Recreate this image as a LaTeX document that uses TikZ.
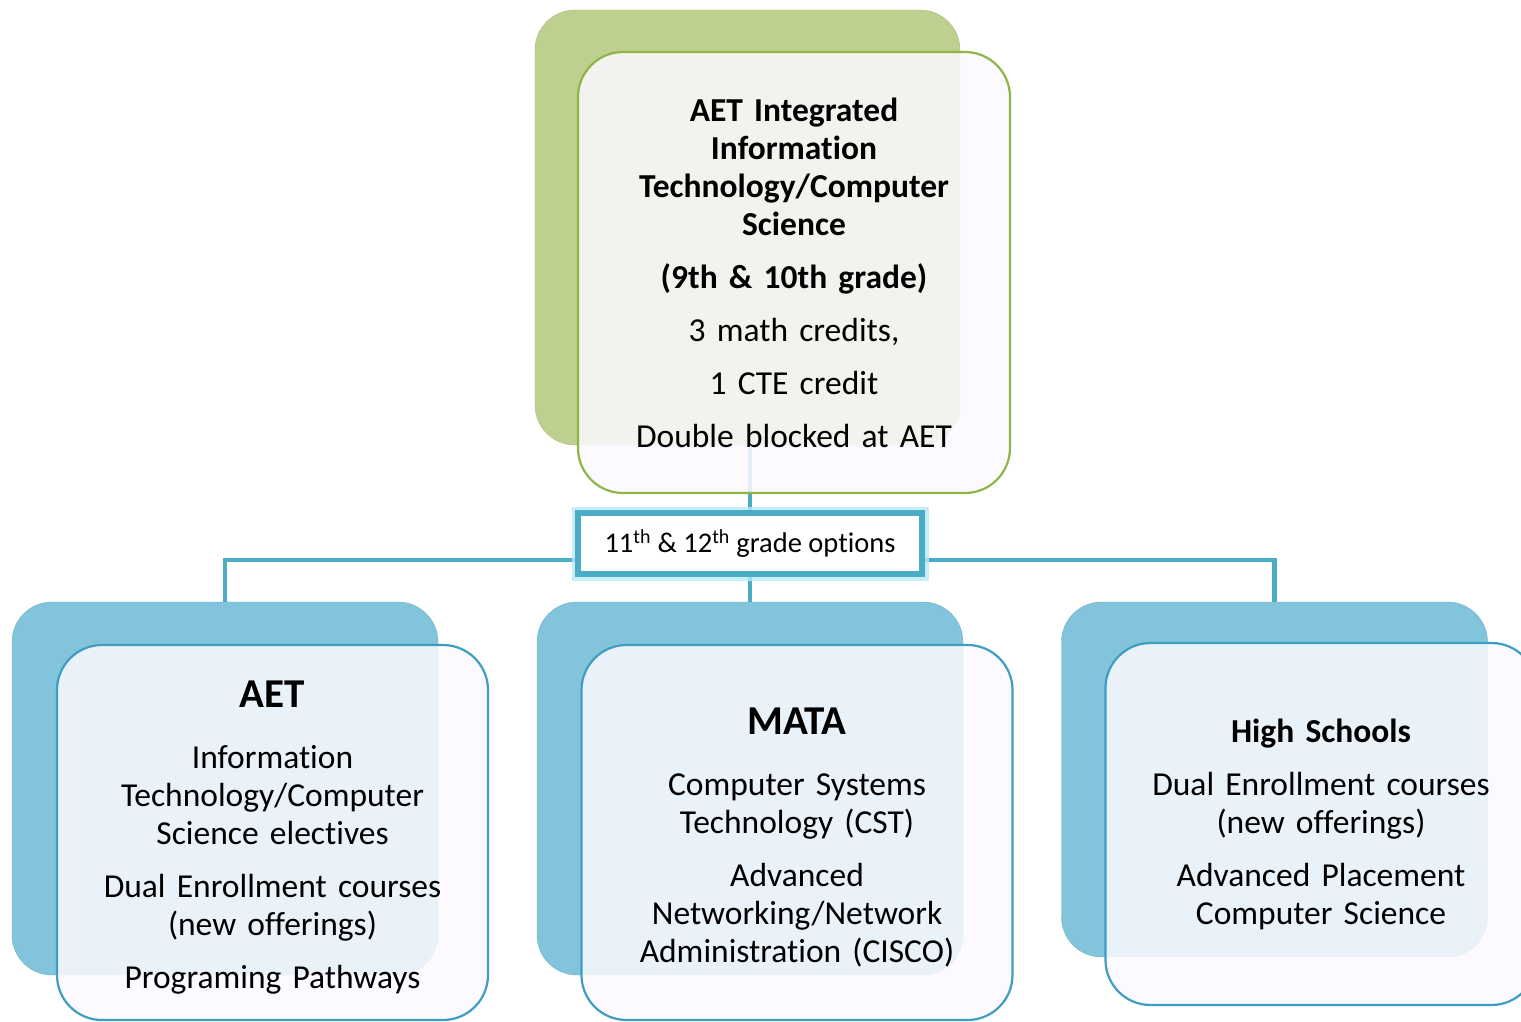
\documentclass[tikz,border=0pt]{standalone}
\usepackage{fontspec}
\setmainfont{Carlito}[Ligatures=NoCommon]
\usetikzlibrary{calc}

\definecolor{grnback}{HTML}{BDD08F}
\definecolor{grnline}{HTML}{8FB548}
\definecolor{bluback}{HTML}{81C4DC}
\definecolor{bluline}{HTML}{3E9EC2}
\definecolor{connclr}{HTML}{4BACC6}
\definecolor{glowclr}{HTML}{B9E8F8}
\definecolor{cardfill}{HTML}{FBF9FE}

\pgfdeclarelayer{back}
\pgfdeclarelayer{conn}
\pgfsetlayers{back,conn,main}

\begin{document}
\begin{tikzpicture}[x=1pt,y=-1pt,
  greenback/.style={rounded corners=40pt, fill=grnback, draw=grnback!90!black, minimum width=425pt, minimum height=435pt, inner sep=0pt},
  blueback/.style={rounded corners=40pt, fill=bluback, draw=bluback!90!black, minimum width=426pt, minimum height=373pt, inner sep=0pt},
  card/.style={rounded corners=45pt, fill=cardfill, fill opacity=0.86, text opacity=1, line width=2.2pt, minimum width=431pt, minimum height=375pt, text width=425pt, align=center, inner sep=0pt, font=\fontsize{33.5}{38}\selectfont},
  greenfront/.style={card, draw=grnline, minimum width=432pt, minimum height=441pt},
  bluefront/.style={card, draw=bluline},
  optbox/.style={draw=connclr, line width=6pt, fill=white, minimum width=344pt, minimum height=61pt, inner sep=0pt, font=\fontsize{28.5}{32}\selectfont, preaction={draw=glowclr, line width=13pt, draw opacity=0.8}},
  conn/.style={draw=connclr, line width=4.5pt}]
\useasboundingbox (0,0) rectangle (1521,1022);

% Back cards
\begin{pgfonlayer}{back}
\node[greenback] (topback) at (747.5,227.5) {};
\node[blueback] (aetback) at (225,788.5) {};
\node[blueback] (mataback) at (750,788.5) {};
\node[blueback, minimum height=355pt] (hsback) at (1274.5,779.5) {};
\end{pgfonlayer}

% Front cards
\node[greenfront] (top) at (794,272.5) {\bfseries AET Integrated\\ Information\\ Technology/Computer\\ Science\\[15pt]
  (9th \& 10th grade)\\[15pt]
  \mdseries 3 math credits,\\[15pt] 1 CTE credit\\[15pt] Double blocked at AET};
\node[bluefront] (aet) at (272.5,832.5) {\rule{0pt}{36pt}{\fontsize{41}{38}\selectfont\bfseries AET}\\[23pt]
  Information\\ Technology/Computer\\ Science electives\\[15pt]
  Dual Enrollment courses\\ (new offerings)\\[15pt]
  Programing Pathways};
\node[bluefront] (mata) at (797,832.5) {\rule{0pt}{36pt}{\fontsize{41}{38}\selectfont\bfseries MATA}\\[23pt]
  Computer Systems\\ Technology (CST)\\[15pt]
  Advanced\\ Networking/Network\\ Administration (CISCO)};
\node[bluefront, minimum height=362pt] (hs) at (1321,824) {{\bfseries High Schools}\\[15pt]
  Dual Enrollment courses\\ (new offerings)\\[15pt]
  Advanced Placement\\ Computer Science};

% Options label
\node[optbox] (opts) at (750,543.5) {11\textsuperscript{th} \& 12\textsuperscript{th} grade options};

% Connectors
\begin{pgfonlayer}{conn}
\draw[conn] (topback.south -| opts.north) -- (opts.north);
\draw[conn] (opts.south) -- (mataback.north);
\draw[conn] (aetback.north) -- ++(0,-42) -| (hsback.north);
\end{pgfonlayer}
\end{tikzpicture}
\end{document}
